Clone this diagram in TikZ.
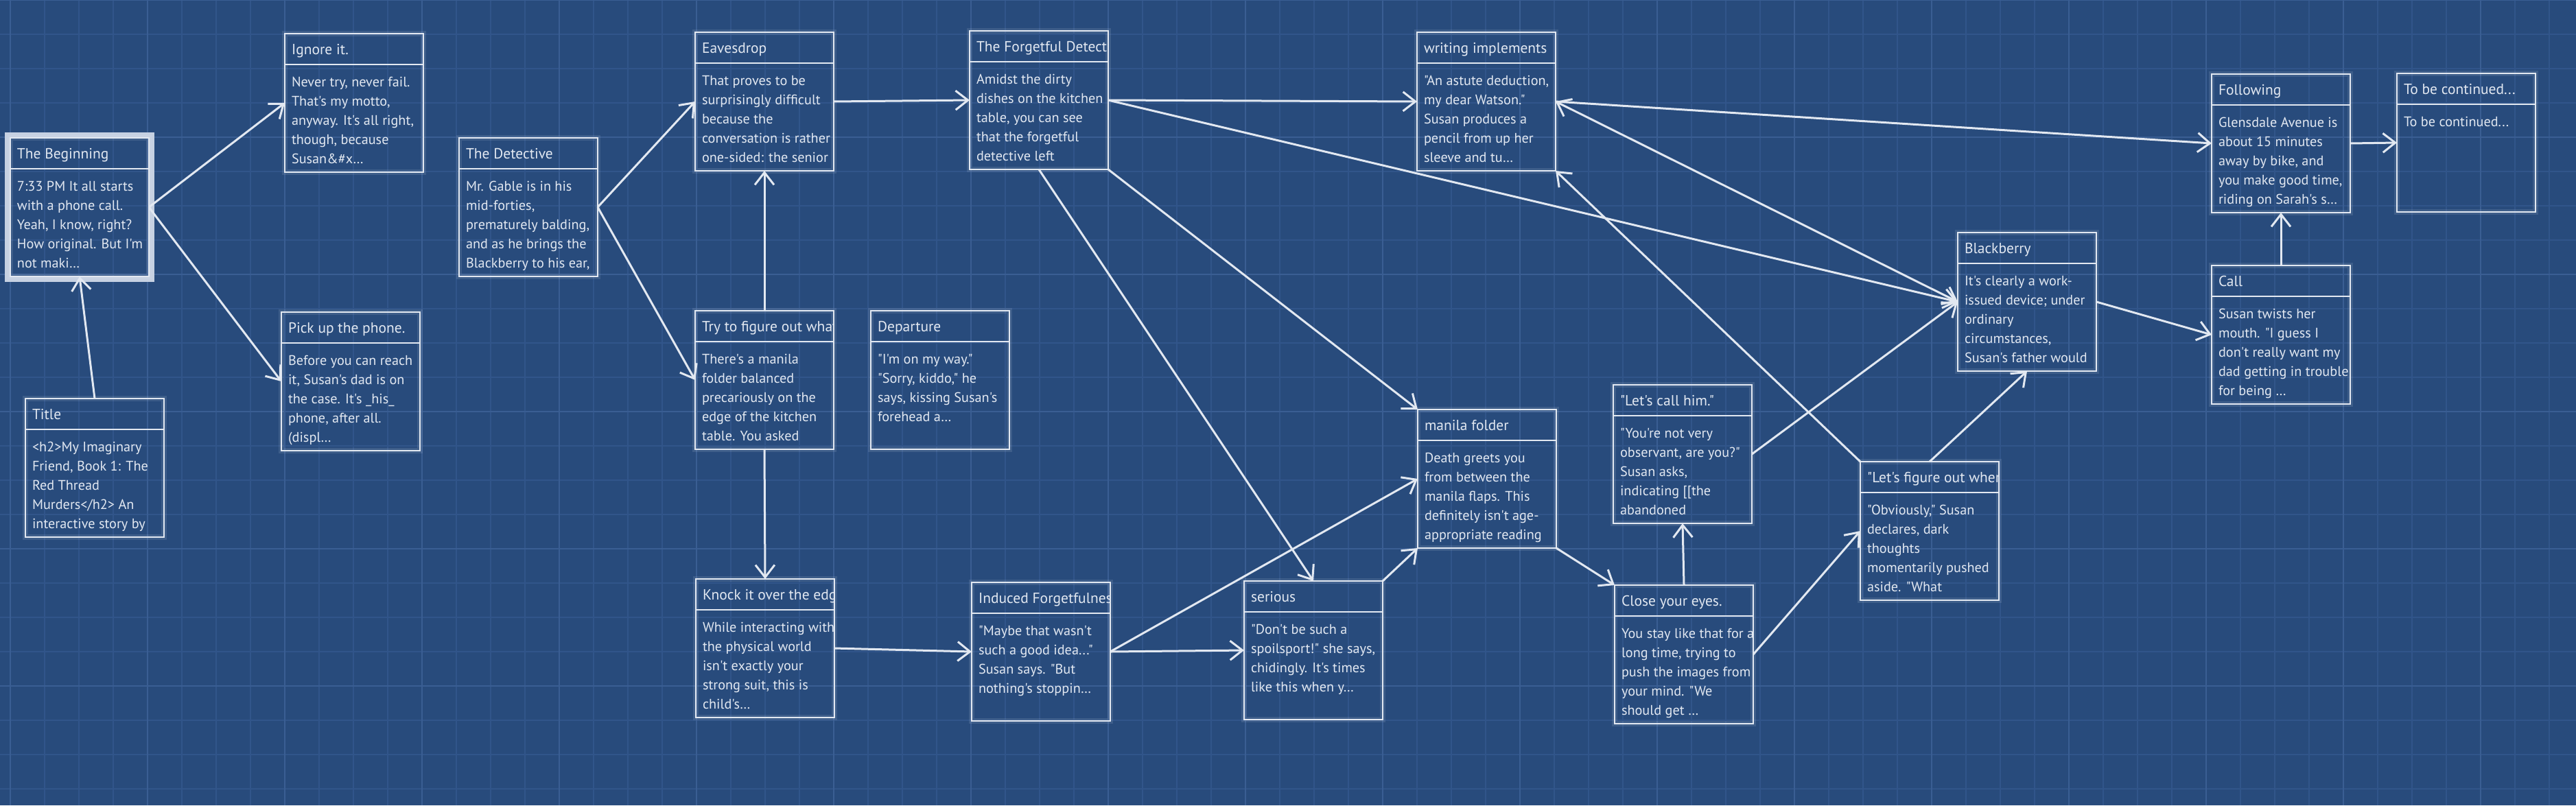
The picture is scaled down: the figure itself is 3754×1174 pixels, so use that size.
\documentclass[tikz,border=0pt]{standalone}
\usepackage{fontspec}
\newfontfamily\cardfont{PT Sans}
\usetikzlibrary{arrows.meta}
\definecolor{bg}{HTML}{284B7C}
\definecolor{ink}{HTML}{E2E8F1}
\definecolor{gridminor}{HTML}{31558A}
\definecolor{gridmajor}{HTML}{3A5E93}
\definecolor{hilite}{HTML}{C6D1E2}
\newcommand\bl[1]{\hbox{#1}}
\newcommand\cardbody[1]{\vtop{\baselineskip=5.6pt\lineskiplimit=-20pt\lineskip=0pt #1}}
\tikzset{
  x=0.2pt, y=-0.2pt,
  card/.style={draw=ink, line width=0.55pt, minimum width=40.4pt, minimum height=40.4pt,
    inner sep=0pt, outer sep=0pt, preaction={draw=ink, draw opacity=0.12, line width=1.5pt}},
  cardline/.style={draw=ink, line width=0.55pt},
  titletxt/.style={anchor=base west, inner sep=0pt, text=ink, font=\cardfont\fontsize{4.3pt}{5.6pt}\selectfont},
  bodytxt/.style={anchor=base west, inner sep=0pt, text=ink, font=\cardfont\fontsize{4.05pt}{5.6pt}\selectfont},
  link/.style={draw=ink, line width=0.6pt, -{Straight Barb[length=3.6pt,width=5.6pt]}},
  biglink/.style={draw=ink, line width=0.6pt, {Straight Barb[length=3.6pt,width=5.6pt]}-{Straight Barb[length=3.6pt,width=5.6pt]}},
}
% name, left, top, title, body
\newcommand\passage[5]{%
  \begin{scope}
    \clip (#2,#3) rectangle (#2+202,#3+45);
    \node[titletxt] (#1-title) at (#2+9,#3+30) {#4};
  \end{scope}
  \begin{scope}
    \clip (#2,#3+45) rectangle (#2+202,#3+202);
    \node[bodytxt] (#1-body) at (#2+9,#3+77) {\cardbody{#5}};
  \end{scope}
  \node[card] (#1) at (#2+101,#3+101) {};
  \draw[cardline] ([yshift=-9pt]#1.north west) -- ([yshift=-9pt]#1.north east);
}
\begin{document}
\begin{tikzpicture}
\fill[bg] (0,0) rectangle (3754,1174);
\useasboundingbox (0,0) rectangle (3754,1174);
\foreach \gx in {15,65,...,3754} \draw[gridminor, line width=0.25pt] (\gx,0) -- (\gx,1174);
\foreach \gy in {0,50,...,1174} \draw[gridminor, line width=0.25pt] (0,\gy) -- (3754,\gy);
\foreach \gx in {15,215,...,3754} \draw[gridmajor, line width=0.4pt] (\gx,0) -- (\gx,1174);
\foreach \gy in {0,200,...,1174} \draw[gridmajor, line width=0.4pt] (0,\gy) -- (3754,\gy);

\draw[hilite, line width=1.6pt] (11,197) rectangle (221,407);
\passage{beg}{15}{201}{The Beginning}{\bl{7:33 PM It all starts}\bl{with a phone call.}\bl{Yeah, I know, right?}\bl{How original. But I'm}\bl{not maki…}}
\passage{ignore}{415}{49}{Ignore it.}{\bl{Never try, never fail.}\bl{That's my motto,}\bl{anyway. It's all right,}\bl{though, because}\bl{Susan\&\#x…}}
\passage{pickup}{410}{455}{Pick up the phone.}{\bl{Before you can reach}\bl{it, Susan's dad is on}\bl{the case. It's \_his\_}\bl{phone, after all.}\bl{(displ…}}
\passage{title}{37}{581}{Title}{\bl{<h2>My Imaginary}\bl{Friend, Book 1: The}\bl{Red Thread}\bl{Murders</h2> An}\bl{interactive story by}}
\passage{det}{669}{201}{The Detective}{\bl{Mr. Gable is in his}\bl{mid-forties,}\bl{prematurely balding,}\bl{and as he brings the}\bl{Blackberry to his ear,}}
\passage{eaves}{1013}{47}{Eavesdrop}{\bl{That proves to be}\bl{surprisingly difficult}\bl{because the}\bl{conversation is rather}\bl{one-sided: the senior}}
\passage{try}{1013}{453}{Try to figure out what}{\bl{There's a manila}\bl{folder balanced}\bl{precariously on the}\bl{edge of the kitchen}\bl{table. You asked}}
\passage{depart}{1269}{453}{Departure}{\bl{"I'm on my way."}\bl{"Sorry, kiddo," he}\bl{says, kissing Susan's}\bl{forehead a…}}
\passage{knock}{1014}{844}{Knock it over the edge}{\bl{While interacting with}\bl{the physical world}\bl{isn't exactly your}\bl{strong suit, this is}\bl{child's…}}
\passage{forg}{1413}{45}{The Forgetful Detective}{\bl{Amidst the dirty}\bl{dishes on the kitchen}\bl{table, you can see}\bl{that the forgetful}\bl{detective left}}
\passage{induced}{1416}{849}{Induced Forgetfulness}{\bl{"Maybe that wasn't}\bl{such a good idea..."}\bl{Susan says. "But}\bl{nothing's stoppin…}}
\passage{serious}{1813}{847}{serious}{\bl{"Don't be such a}\bl{spoilsport!" she says,}\bl{chidingly. It's times}\bl{like this when y…}}
\passage{writing}{2065}{47}{writing implements}{\bl{"An astute deduction,}\bl{my dear Watson."}\bl{Susan produces a}\bl{pencil from up her}\bl{sleeve and tu…}}
\passage{manila}{2066}{597}{manila folder}{\bl{Death greets you}\bl{from between the}\bl{manila flaps. This}\bl{definitely isn't age-}\bl{appropriate reading}}
\passage{letscall}{2351}{561}{"Let's call him."}{\bl{"You're not very}\bl{observant, are you?"}\bl{Susan asks,}\bl{indicating [[the}\bl{abandoned}}
\passage{close}{2353}{853}{Close your eyes.}{\bl{You stay like that for a}\bl{long time, trying to}\bl{push the images from}\bl{your mind. "We}\bl{should get …}}
\passage{figure}{2711}{673}{"Let's figure out where}{\bl{"Obviously," Susan}\bl{declares, dark}\bl{thoughts}\bl{momentarily pushed}\bl{aside. "What}}
\passage{blackb}{2853}{339}{Blackberry}{\bl{It's clearly a work-}\bl{issued device; under}\bl{ordinary}\bl{circumstances,}\bl{Susan's father would}}
\passage{follow}{3223}{108}{Following}{\bl{Glensdale Avenue is}\bl{about 15 minutes}\bl{away by bike, and}\bl{you make good time,}\bl{riding on Sarah's s…}}
\passage{call}{3223}{387}{Call}{\bl{Susan twists her}\bl{mouth. "I guess I}\bl{don't really want my}\bl{dad getting in trouble}\bl{for being …}}
\passage{tobe}{3493}{107}{To be continued...}{\bl{To be continued...}}

\draw[link] (title.north) -- (beg.south);
\draw[link] (beg.east) -- (ignore.west);
\draw[link] (beg.east) -- (pickup.west);
\draw[link] (det.east) -- (eaves.west);
\draw[link] (det.east) -- (try.west);
\draw[link] (try.north) -- (eaves.south);
\draw[link] (try.south) -- (knock.north);
\draw[link] (eaves.east) -- (forg.west);
\draw[link] (knock.east) -- (induced.west);
\draw[link] (induced.east) -- (serious.west);
\draw[link] (induced.east) -- (manila.west);
\draw[link] (serious.north east) -- (manila.south west);
\draw[link] (forg.south) -- (serious.north);
\draw[link] (forg.south east) -- (manila.north west);
\draw[link] (forg.east) -- (writing.west);
\draw[link] (forg.east) -- (blackb.west);
\draw[link] (manila.south east) -- (close.north west);
\draw[link] (close.north) -- (letscall.south);
\draw[link] (close.east) -- (figure.west);
\draw[link] (letscall.east) -- (blackb.west);
\draw[link] (figure.north west) -- (writing.south east);
\draw[link] (figure.north) -- (blackb.south);
\draw[link] (blackb.east) -- (call.west);
\draw[link] (call.north) -- (follow.south);
\draw[link] (follow.east) -- (tobe.west);
\draw[link] (writing.east) -- (follow.west);
\draw[biglink] (writing.east) -- (blackb.west);
\end{tikzpicture}
\end{document}
